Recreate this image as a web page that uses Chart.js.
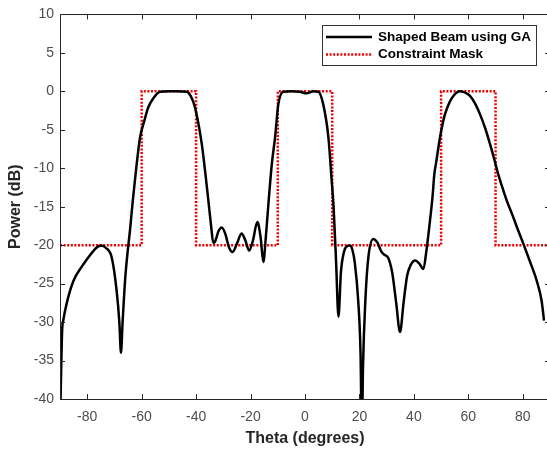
<!DOCTYPE html>
<html>
<head>
<meta charset="utf-8">
<script src="https://cdn.jsdelivr.net/npm/chart.js@4.4.1/dist/chart.umd.min.js"></script>
<style>
  html, body { margin: 0; padding: 0; background: #fff; overflow: hidden; width: 547px; height: 450px; }
  canvas { display: block; }
</style>
</head>
<body>
<canvas id="beamChart" width="556" height="450"></canvas>
<script>
// Beam pattern (theta in degrees, power in dB)
const beamTheta = [
  -89.8, -89.2, -88.8, -87.5, -85, -82, -79, -76.5, -75, -73, -71, -69.2, -68.2, -67.6, -67, -66.1, -65.2, -64.3,
  -63.2, -62, -60.6, -59, -57.6, -55.5, -53.3, -50, -47, -43.5, -42, -40.4, -37.9, -36.5, -35.5, -34.5, -33.7,
  -33, -31.8, -30.6, -29.3, -28, -26.6, -25, -23.3, -22, -20.5, -19.2, -17.5, -16.3, -15.3, -14.4, -13.3, -12.2,
  -11, -9.8, -8, -5, -2, 0.6, 3, 4.9, 6.7, 8.6, 9.8, 10.5, 11.4, 12.3, 13.2, 14.3, 15.4, 16.5, 17.4, 18.3, 19.5, 20.4, 20.9,
  21.3, 22.2, 23.3, 25.1, 26.5, 28, 29.4, 30.5, 32, 33.5, 34.9, 36.2, 37.5, 38.8, 40.5, 42, 43.5, 44.5, 45.7,
  46.9, 47.5, 48.2, 49, 50, 51.4, 53, 54.5, 57, 59, 60.6, 62.5, 64.3, 66.2, 68, 69.5, 71, 72.5, 74.1, 76, 78,
  80.2, 82.5, 85.1, 86.9, 87.8
];
const beamPower = [
  -40, -31, -29.8, -27.5, -24.6, -22.8, -21.3, -20.3, -20.05, -20.4, -21.6, -25.9, -30, -34, -30, -24.6, -21, -18.1,
  -14, -10, -6, -3.8, -2.1, -0.8, -0.05, 0, 0, -0.05, -0.6, -2.1, -6.9, -11, -14.2, -17.5, -19.7,
  -19.5, -18.2, -17.7, -18.5, -20.2, -20.9, -19.8, -18.5, -19.3, -20.7, -19.5, -17, -19, -22.2, -19, -14, -9.5,
  -6, -1.7, -0.05, 0, -0.05, -0.25, 0, -0.05, -1.7, -6, -11.6, -15, -22, -29.3, -23.5, -20.9, -20.15, -20.05, -20.6, -22.3, -27, -34, -45,
  -36, -27, -21.5, -19.2, -19.6, -20.8, -21.3, -21.6, -23.5, -27.5, -31.3, -27.5, -24, -22.6, -22, -22.4, -23.1, -21, -17.5,
  -13.5, -10.8, -9.2, -7.3, -5.2, -3, -1.5, -0.6, 0, -0.2, -0.6, -1.6, -3, -4.8, -6.9, -8.8, -10.8, -12.5, -14.2, -15.9, -17.8,
  -19.8, -22, -24.6, -27.2, -29.8
];

// Constraint mask corners
const maskTheta = [-90, -60, -60, -40, -40, -10, -10, 10, 10, 50, 50, 70, 70, 90];
const maskPower = [-20, -20, 0, 0, -20, -20, 0, 0, -20, -20, 0, 0, -20, -20];

const xTicks = [-80, -60, -40, -20, 0, 20, 40, 60, 80];
const yTicks = [-40, -35, -30, -25, -20, -15, -10, -5, 0, 5, 10];

const seriesNames = ['Shaped Beam using GA', 'Constraint Mask'];

const axisColor = '#262626';
const tickFont = { family: '"Liberation Sans", Arial, sans-serif', size: 14 };
const titleFont = { family: '"Liberation Sans", Arial, sans-serif', size: 16, weight: 'bold' };

// MATLAB-like box, inward ticks and boxed legend
const matlabBox = {
  id: 'matlabBox',
  afterDatasetsDraw(chart) {
    const { ctx, chartArea: a, scales } = chart;
    const tl = 5;
    ctx.save();
    ctx.strokeStyle = axisColor;
    ctx.lineWidth = 1;
    ctx.beginPath();
    xTicks.forEach(v => {
      const px = Math.round(scales.x.getPixelForValue(v)) + 0.5;
      ctx.moveTo(px, a.bottom); ctx.lineTo(px, a.bottom - tl);
      ctx.moveTo(px, a.top); ctx.lineTo(px, a.top + tl);
    });
    yTicks.forEach(v => {
      const py = Math.round(scales.y.getPixelForValue(v)) + 0.5;
      ctx.moveTo(a.left, py); ctx.lineTo(a.left + tl, py);
      ctx.moveTo(a.right, py); ctx.lineTo(a.right - tl, py);
    });
    ctx.stroke();
    ctx.strokeRect(Math.round(a.left) + 0.5, Math.round(a.top) + 0.5,
      Math.round(a.right - a.left), Math.round(a.bottom - a.top));

    // legend
    const lx = 322, ly = 25, lw = 214, lh = 40;
    ctx.fillStyle = '#fff';
    ctx.fillRect(lx, ly, lw, lh);
    ctx.strokeStyle = '#333';
    ctx.strokeRect(lx + 0.5, ly + 0.5, lw, lh);
    ctx.font = 'bold 13.5px "Liberation Sans", Arial, sans-serif';
    ctx.textBaseline = 'middle';
    ctx.fillStyle = '#000';
    const rows = [ly + 12, ly + 29.5];
    chart.data.datasets.forEach((ds, i) => {
      ctx.save();
      ctx.strokeStyle = ds.borderColor;
      ctx.lineWidth = ds.borderWidth;
      ctx.setLineDash(ds.borderDash || []);
      ctx.beginPath();
      ctx.moveTo(lx + 4, rows[i]);
      ctx.lineTo(lx + 50, rows[i]);
      ctx.stroke();
      ctx.restore();
      ctx.fillText(ds.label, lx + 56, rows[i]);
    });
    ctx.restore();
  }
};

new Chart(document.getElementById('beamChart'), {
  type: 'line',
  data: {
    datasets: [{
      label: seriesNames[0],
      data: beamTheta.map((t, i) => ({ x: t, y: beamPower[i] })),
      borderColor: '#000',
      borderWidth: 2.5,
      pointRadius: 0,
      tension: 0.4,
      cubicInterpolationMode: 'monotone',
      fill: false
    }, {
      label: seriesNames[1],
      data: maskTheta.map((t, i) => ({ x: t, y: maskPower[i] })),
      borderColor: '#ee0000',
      borderWidth: 2.5,
      borderDash: [2, 1.6],
      pointRadius: 0,
      tension: 0,
      fill: false
    }]
  },
  options: {
    responsive: false,
    animation: false,
    layout: { padding: { top: 13, right: 6, left: 0, bottom: 0 } },
    plugins: { legend: { display: false }, tooltip: { enabled: false } },
    scales: {
      x: {
        type: 'linear',
        min: -90,
        max: 90,
        afterBuildTicks: s => { s.ticks = xTicks.map(v => ({ value: v })); },
        afterFit: s => { s.height = 51; },
        grid: { display: false, drawTicks: false },
        border: { display: false },
        ticks: { color: '#4d4d4d', font: tickFont, padding: 10, maxRotation: 0 },
        title: { display: true, text: 'Theta (degrees)', color: axisColor, font: titleFont, padding: { top: 0, bottom: 2 } }
      },
      y: {
        min: -40,
        max: 10,
        afterBuildTicks: s => { s.ticks = yTicks.map(v => ({ value: v })); },
        afterFit: s => { s.width = 60; },
        grid: { display: false, drawTicks: false },
        border: { display: false },
        ticks: { color: '#4d4d4d', font: tickFont, padding: 6 },
        title: { display: true, text: 'Power (dB)', color: axisColor, font: titleFont, padding: { top: 6, bottom: 0 } }
      }
    }
  },
  plugins: [matlabBox]
});
</script>
</body>
</html>
